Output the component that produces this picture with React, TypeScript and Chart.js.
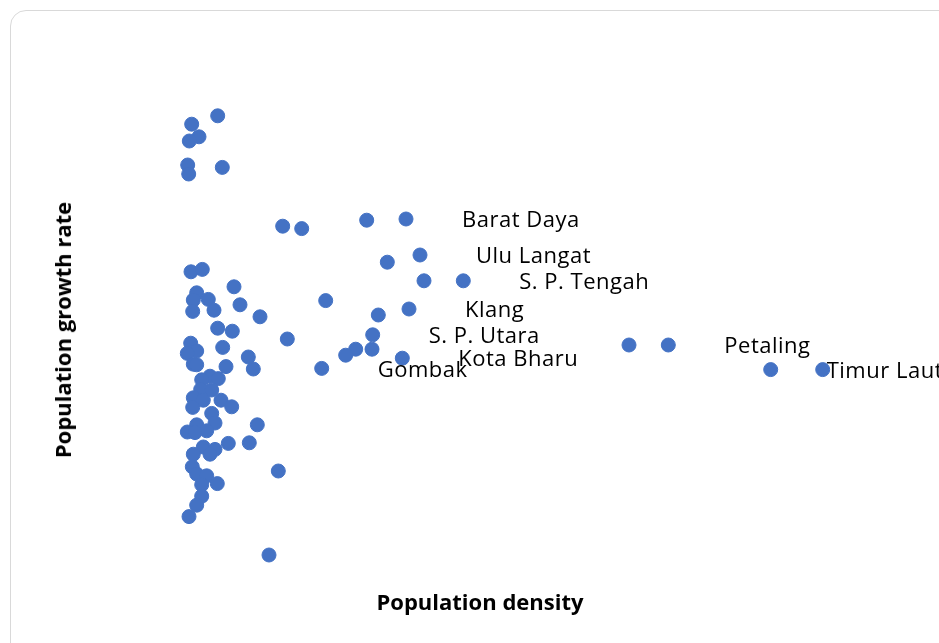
import React, { useEffect, useRef } from "react";
import { Chart, registerables } from "chart.js";

Chart.register(...registerables);

// Population density (x) and population growth rate (y) per district
const densities: number[] = [
  677, 417, 490, 393, 377, 387, 723, 1327, 1517, 2167,
  2560, 2700, 2373, 2740, 3133, 1757, 2590, 2283, 2227, 1373,
  2057, 1957, 2220, 2523, 1717, 4790, 5183, 6207, 6727, 410,
  523, 840, 467, 583, 433, 900, 640, 427, 1100, 677,
  823, 407, 467, 373, 727, 433, 467, 983, 1033, 760,
  600, 517, 683, 507, 617, 433, 533, 710, 817, 427,
  617, 650, 467, 373, 567, 450, 1073, 783, 993, 533,
  650, 433, 600, 423, 467, 567, 673, 517, 517, 467,
  390, 1283, 1190,
];

const growthRates: number[] = [
  3.57, 3.43, 3.22, 3.15, 2.75, 2.6, 2.71, 1.73, 1.69, 1.83,
  1.85, 1.25, 1.13, 0.82, 0.82, 0.49, 0.35, 0.25, -0.08, -0.15,
  -0.32, -0.42, -0.32, -0.47, -0.64, -0.25, -0.25, -0.66, -0.66, 0.97,
  1.01, 0.72, 0.62, 0.51, 0.5, 0.42, 0.33, 0.31, 0.22, 0.03,
  -0.02, -0.22, -0.35, -0.39, -0.29, -0.57, -0.58, -0.45, -0.65, -0.61,
  -0.77, -0.83, -0.81, -0.99, -1.0, -1.13, -1.17, -1.17, -1.28, -1.29,
  -1.39, -1.55, -1.58, -1.7, -1.68, -1.71, -1.58, -1.89, -1.88, -1.95,
  -1.99, -2.07, -2.07, -2.28, -2.4, -2.43, -2.56, -2.58, -2.77, -2.92,
  -3.11, -2.35, -3.75,
];

const labelledIndex: number[] = [10, 11, 14, 16, 18, 23, 24, 26, 27];
const labelledNames: string[] = [
  "Barat Daya", "Ulu Langat", "S. P. Tengah", "Klang", "S. P. Utara",
  "Kota Bharu", "Gombak", "Petaling", "Timur Laut",
];
const districtLabels: string[] = densities.map(() => "");
labelledIndex.forEach((idx, k) => { districtLabels[idx] = labelledNames[k]; });

const xTitle = "Population density";
const yTitle = "Population growth rate";

const labelPlugin = {
  id: "pointLabels",
  afterDatasetsDraw(chart: any) {
    const meta = chart.getDatasetMeta(0);
    const ctx = chart.ctx;
    ctx.save();
    ctx.font = '22px "Open Sans"';
    try { (ctx as any).letterSpacing = "0.5px"; } catch (e) {}
    ctx.fillStyle = "#000000";
    ctx.textAlign = "left";
    ctx.textBaseline = "middle";
    meta.data.forEach((el: any, i: number) => {
      const t = districtLabels[i];
      if (t) ctx.fillText(t, el.x + 56, el.y + 2);
    });
    ctx.restore();
  },
};

export default function App() {
  const ref = useRef<HTMLCanvasElement | null>(null);
  useEffect(() => {
    if (!ref.current) return;
    const chart = new Chart(ref.current, {
      type: "scatter",
      data: {
        datasets: [
          {
            data: densities.map((d, i) => ({ x: d, y: growthRates[i] })),
            backgroundColor: "#4472C4",
            borderColor: "#4472C4",
            borderWidth: 1,
            pointRadius: 7,
            pointHoverRadius: 7,
          },
        ],
      },
      options: {
        animation: false,
        responsive: false,
        maintainAspectRatio: false,
        layout: { padding: { left: 150, right: 39, top: 90, bottom: 73 } },
        plugins: { legend: { display: false }, tooltip: { enabled: false } },
        scales: {
          x: { type: "linear", min: 0, max: 7500, display: false },
          y: { type: "linear", min: -4, max: 4, display: false },
        },
      },
      plugins: [labelPlugin],
    });
    return () => chart.destroy();
  }, []);

  return (
    <div style={{ position: "fixed", left: 0, top: 0, width: 939, height: 643, overflow: "hidden", background: "#fff" }}>
      <div
        style={{
          position: "absolute",
          left: 10,
          top: 10,
          width: 950,
          height: 650,
          border: "1px solid #d9d9d9",
          borderRadius: 16,
          boxSizing: "border-box",
        }}
      />
      <canvas ref={ref} width={939} height={643} style={{ position: "absolute", left: 0, top: 0 }} />
      <div
        style={{
          position: "absolute",
          left: 0,
          width: 960,
          top: 586,
          textAlign: "center",
          font: 'bold 22px "Open Sans"',
          color: "#000",
          whiteSpace: "nowrap",
        }}
      >
        {xTitle}
      </div>
      <div
        style={{
          position: "absolute",
          left: 62,
          top: 330,
          transform: "translate(-50%, -50%) rotate(-90deg)",
          font: 'bold 22px "Open Sans"',
          color: "#000",
          whiteSpace: "nowrap",
        }}
      >
        {yTitle}
      </div>
    </div>
  );
}
